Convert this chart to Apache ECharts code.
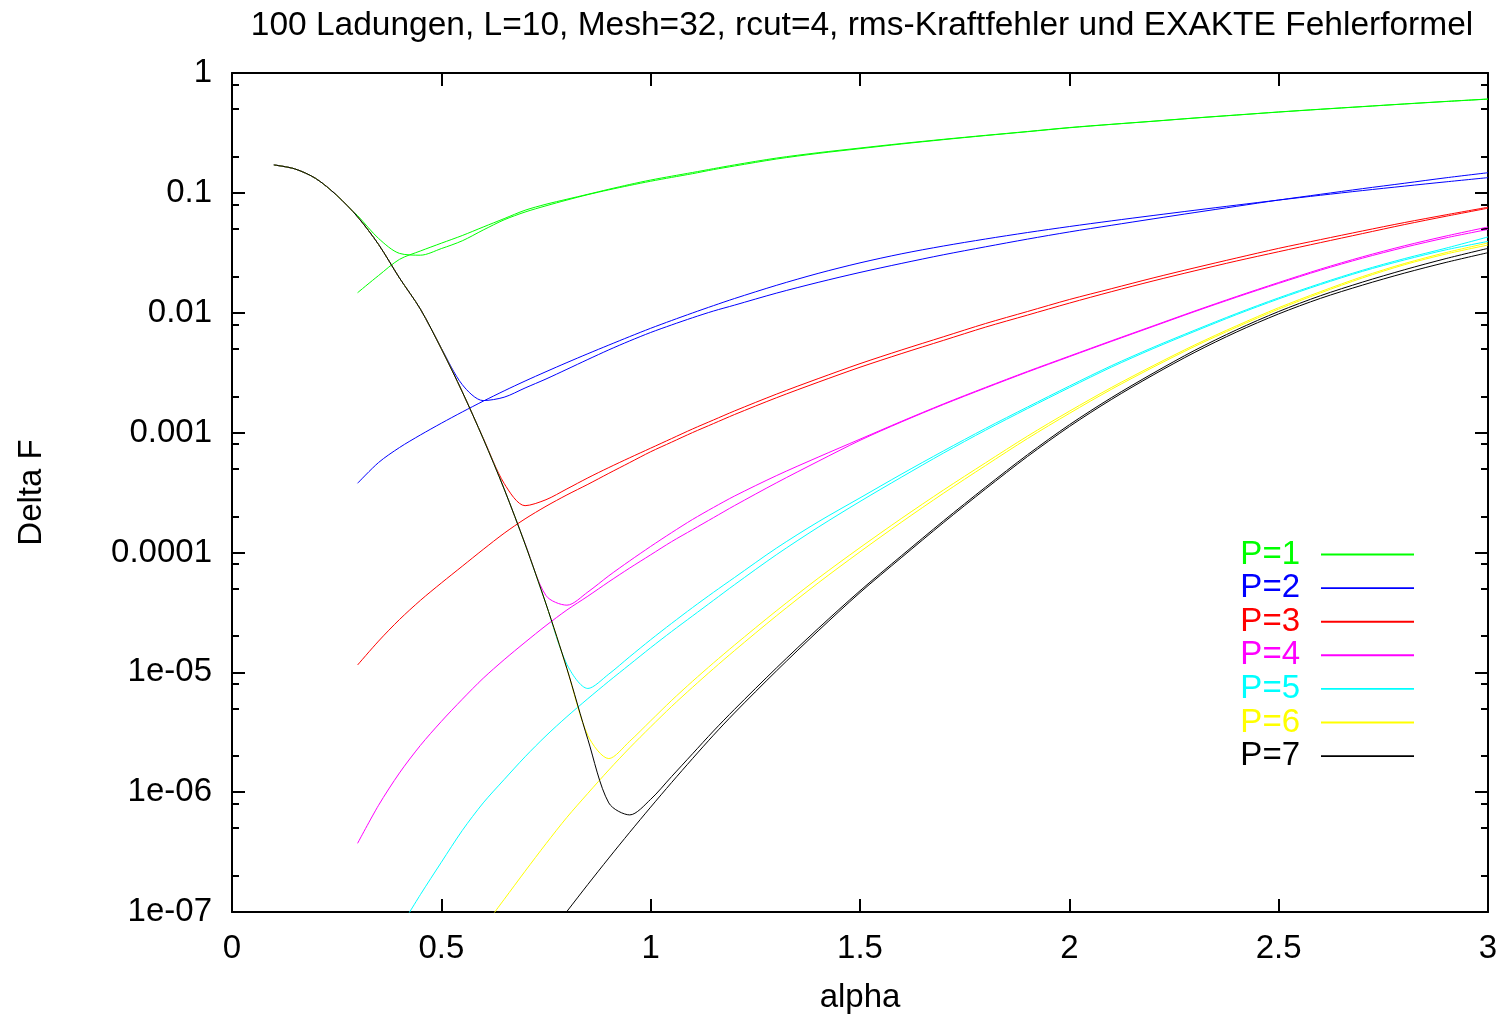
<!DOCTYPE html>
<html>
<head>
<meta charset="utf-8">
<script src="https://cdn.jsdelivr.net/npm/echarts@6/dist/echarts.min.js"></script>
<style>
  html, body { margin: 0; padding: 0; background: #fff; }
  #chart { width: 1503px; height: 1018px; }
</style>
</head>
<body>
<div id="chart"></div>
<script>
// alpha grid of the curves that start at 0.1 (measured rms error)
var alphaA = [0.1, 0.15, 0.2, 0.25, 0.3, 0.35, 0.4, 0.45, 0.5, 0.55, 0.6, 0.65, 0.7, 0.75, 0.8, 0.85, 0.9, 0.95,
  1.0, 1.05, 1.1, 1.15, 1.2, 1.3, 1.4, 1.5, 1.6, 1.7, 1.8, 1.9, 2.0, 2.1, 2.2, 2.3, 2.4, 2.5, 2.6, 2.7, 2.8, 2.9, 3.0];
// alpha grid of the curves that start at 0.3 (exact error formula)
var alphaB = [0.3, 0.35, 0.4, 0.45, 0.5, 0.55, 0.6, 0.65, 0.7, 0.75, 0.8, 0.85, 0.9, 0.95,
  1.0, 1.05, 1.1, 1.15, 1.2, 1.3, 1.4, 1.5, 1.6, 1.7, 1.8, 1.9, 2.0, 2.1, 2.2, 2.3, 2.4, 2.5, 2.6, 2.7, 2.8, 2.9, 3.0];

// log10(Delta F)
var p1A = [-0.767, -0.80, -0.88, -1.02, -1.19, -1.38, -1.505, -1.52, -1.465, -1.40, -1.31, -1.225, -1.16, -1.108, -1.06, -1.015, -0.975, -0.938,
  -0.903, -0.871, -0.84, -0.806, -0.776, -0.718, -0.671, -0.631, -0.592, -0.556, -0.522, -0.49, -0.457, -0.429, -0.403, -0.376, -0.351, -0.326, -0.303, -0.281, -0.259, -0.238, -0.218];
var p1B = [-1.833, -1.69, -1.555, -1.485, -1.42, -1.356, -1.285, -1.215, -1.145, -1.095, -1.053, -1.012, -0.97, -0.93,
  -0.893, -0.861, -0.83, -0.798, -0.767, -0.71, -0.665, -0.626, -0.588, -0.553, -0.52, -0.488, -0.455, -0.428, -0.402, -0.375, -0.35, -0.325, -0.302, -0.28, -0.258, -0.237, -0.217];

var p2A = [-0.767, -0.80, -0.88, -1.02, -1.20, -1.43, -1.71, -1.97, -2.296, -2.60, -2.733, -2.705, -2.628, -2.553, -2.472, -2.39, -2.31, -2.235,
  -2.165, -2.102, -2.042, -1.986, -1.937, -1.837, -1.747, -1.664, -1.588, -1.516, -1.45, -1.386, -1.326, -1.271, -1.217, -1.164, -1.112, -1.06, -1.012, -0.965, -0.92, -0.874, -0.832];
var p2B = [-3.423, -3.25, -3.125, -3.02, -2.922, -2.828, -2.738, -2.652, -2.57, -2.492, -2.416, -2.342, -2.27, -2.199,
  -2.13, -2.065, -2.002, -1.941, -1.882, -1.772, -1.672, -1.584, -1.508, -1.443, -1.385, -1.331, -1.281, -1.234, -1.189, -1.145, -1.102, -1.06, -1.02, -0.981, -0.944, -0.908, -0.873];

var p3A = [-0.767, -0.80, -0.88, -1.02, -1.20, -1.43, -1.71, -1.97, -2.30, -2.66, -3.046, -3.424, -3.61, -3.56, -3.47, -3.378, -3.292, -3.21,
  -3.13, -3.05, -2.97, -2.895, -2.82, -2.68, -2.55, -2.425, -2.31, -2.2, -2.09, -1.99, -1.89, -1.8, -1.71, -1.625, -1.543, -1.463, -1.39, -1.318, -1.248, -1.183, -1.12];
var p3B = [-4.939, -4.74, -4.56, -4.40, -4.255, -4.115, -3.975, -3.84, -3.72, -3.615, -3.52, -3.432, -3.34, -3.25,
  -3.16, -3.08, -3.0, -2.925, -2.85, -2.71, -2.58, -2.455, -2.34, -2.23, -2.12, -2.02, -1.92, -1.825, -1.735, -1.65, -1.568, -1.491, -1.415, -1.34, -1.265, -1.195, -1.128];

var p4A = [-0.767, -0.80, -0.88, -1.02, -1.20, -1.43, -1.71, -1.97, -2.30, -2.66, -3.05, -3.47, -3.925, -4.36, -4.44, -4.33, -4.195, -4.07,
  -3.95, -3.835, -3.725, -3.625, -3.53, -3.36, -3.205, -3.055, -2.905, -2.76, -2.623, -2.49, -2.362, -2.235, -2.11, -1.985, -1.864, -1.748, -1.636, -1.534, -1.442, -1.36, -1.285];
var p4B = [-6.427, -6.11, -5.84, -5.61, -5.41, -5.225, -5.05, -4.895, -4.75, -4.61, -4.48, -4.365, -4.245, -4.13,
  -4.02, -3.91, -3.81, -3.71, -3.61, -3.42, -3.24, -3.065, -2.91, -2.765, -2.628, -2.495, -2.367, -2.24, -2.115, -1.99, -1.87, -1.755, -1.645, -1.545, -1.455, -1.375, -1.305];

var p5A = [-0.767, -0.80, -0.88, -1.02, -1.20, -1.43, -1.71, -1.97, -2.30, -2.66, -3.05, -3.47, -3.93, -4.43, -4.934, -5.135, -5.015, -4.87,
  -4.728, -4.592, -4.46, -4.333, -4.21, -3.965, -3.745, -3.545, -3.345, -3.152, -2.965, -2.787, -2.612, -2.443, -2.289, -2.145, -2.006, -1.876, -1.756, -1.646, -1.549, -1.461, -1.368];
var p5B = [null, null, -7.14, -6.855, -6.585, -6.32, -6.09, -5.895, -5.705, -5.53, -5.37, -5.22, -5.075, -4.935,
  -4.795, -4.66, -4.53, -4.4, -4.27, -4.02, -3.79, -3.575, -3.37, -3.17, -2.98, -2.8, -2.625, -2.455, -2.3, -2.155, -2.015, -1.885, -1.765, -1.655, -1.56, -1.475, -1.405];

var p6A = [-0.767, -0.80, -0.88, -1.02, -1.20, -1.43, -1.71, -1.97, -2.30, -2.66, -3.05, -3.47, -3.93, -4.43, -4.97, -5.527, -5.72, -5.575,
  -5.405, -5.235, -5.075, -4.922, -4.774, -4.488, -4.216, -3.96, -3.714, -3.478, -3.252, -3.03, -2.822, -2.625, -2.442, -2.268, -2.108, -1.958, -1.824, -1.699, -1.59, -1.498, -1.418];
var p6B = [null, null, null, null, null, null, -7.13, -6.895, -6.66, -6.43, -6.21, -6.01, -5.815, -5.63,
  -5.455, -5.285, -5.125, -4.97, -4.82, -4.53, -4.255, -3.995, -3.745, -3.505, -3.275, -3.05, -2.84, -2.64, -2.455, -2.28, -2.12, -1.97, -1.835, -1.71, -1.6, -1.51, -1.435];

var p7A = [-0.767, -0.80, -0.88, -1.02, -1.20, -1.43, -1.71, -1.97, -2.30, -2.66, -3.05, -3.47, -3.93, -4.43, -4.97, -5.56, -6.09, -6.19,
  -6.06, -5.87, -5.68, -5.49, -5.31, -4.965, -4.635, -4.32, -4.025, -3.735, -3.455, -3.185, -2.935, -2.71, -2.505, -2.313, -2.142, -1.99, -1.858, -1.745, -1.642, -1.548, -1.463];
var p7B = [null, null, null, null, null, null, null, null, null, -7.22, -6.995, -6.77, -6.55, -6.335,
  -6.125, -5.92, -5.72, -5.525, -5.34, -4.99, -4.655, -4.335, -4.04, -3.75, -3.47, -3.2, -2.95, -2.725, -2.52, -2.33, -2.16, -2.01, -1.88, -1.77, -1.67, -1.58, -1.499];

var names = ['P=1', 'P=2', 'P=3', 'P=4', 'P=5', 'P=6', 'P=7'];
var colors = ['#00ff00', '#0000ff', '#ff0000', '#ff00ff', '#00ffff', '#ffff00', '#000000'];
var curvesA = [p1A, p2A, p3A, p4A, p5A, p6A, p7A];
var curvesB = [p1B, p2B, p3B, p4B, p5B, p6B, p7B];

var yTickLabels = ['1e-07', '1e-06', '1e-05', '0.0001', '0.001', '0.01', '0.1', '1'];
var yMinorTicks = [2e-7, 5e-7, 8e-7, 2e-6, 5e-6, 8e-6, 2e-5, 5e-5, 8e-5, 2e-4, 5e-4, 8e-4,
  2e-3, 5e-3, 8e-3, 0.02, 0.05, 0.08, 0.2, 0.5, 0.8];

var FONT = 'Liberation Sans, Arial, sans-serif';

function toPoints(xs, logs) {
  var pts = [];
  for (var i = 0; i < xs.length; i++) {
    if (logs[i] === null) continue;
    pts.push([xs[i], Math.pow(10, logs[i])]);
  }
  return pts;
}

var series = [];
names.forEach(function (n, k) {
  [toPoints(alphaA, curvesA[k]), toPoints(alphaB, curvesB[k])].forEach(function (pts) {
    series.push({
      name: n,
      type: 'line',
      data: pts,
      showSymbol: false,
      smooth: 0.3,
      color: colors[k],
      lineStyle: { width: 1, color: colors[k] }
    });
  });
});

function xAx(pos, showLabel) {
  return {
    type: 'value', min: 0, max: 3, interval: 0.5, position: pos,
    axisLine: { show: true, onZero: false, lineStyle: { color: '#000', width: 2 } },
    axisTick: { show: true, inside: true, length: 13, lineStyle: { color: '#000', width: 2 } },
    axisLabel: { show: showLabel, color: '#000', fontSize: 33, fontFamily: FONT, margin: 20 },
    splitLine: { show: false }
  };
}
function yAx(pos, opts) {
  var a = {
    type: 'log', logBase: 10, min: 1e-7, max: 1, interval: 1, position: pos,
    axisLine: { show: true, onZero: false, lineStyle: { color: '#000', width: 2 } },
    axisTick: { show: true, inside: true, length: 13, lineStyle: { color: '#000', width: 2 } },
    axisLabel: { show: false },
    splitLine: { show: false }
  };
  return Object.assign(a, opts || {});
}

var xa0 = xAx('bottom', true);
xa0.name = 'alpha';
xa0.nameLocation = 'middle';
xa0.nameGap = 69;
xa0.nameTextStyle = { fontSize: 33, color: '#000', fontFamily: FONT };

var ya0 = yAx('left', {
  name: 'Delta F',
  nameLocation: 'middle',
  nameRotate: 90,
  nameGap: 184,
  nameTextStyle: { fontSize: 33, color: '#000', fontFamily: FONT },
  axisLabel: {
    show: true, color: '#000', fontSize: 33, fontFamily: FONT, margin: 20,
    formatter: function (v) { return yTickLabels[Math.round(Math.log10(v)) + 7]; }
  }
});
var minorTick = { show: true, inside: true, length: 7, customValues: yMinorTicks, lineStyle: { color: '#000', width: 2 } };

// hidden x axis of the overlay grid that carries the minor y ticks
var xHidden = xAx('bottom', false);
xHidden.gridIndex = 1;
xHidden.show = false;

var option = {
  animation: false,
  backgroundColor: '#fff',
  title: {
    text: '100 Ladungen, L=10, Mesh=32, rcut=4, rms-Kraftfehler und EXAKTE Fehlerformel',
    left: 857, top: 4, textAlign: 'center',
    textStyle: { fontSize: 33.5, fontWeight: 'normal', color: '#000', fontFamily: FONT }
  },
  grid: [
    { left: 232, right: 15, top: 73, bottom: 106, containLabel: false, outerBoundsMode: 'none' },
    { left: 232, right: 15, top: 73, bottom: 106, containLabel: false, outerBoundsMode: 'none' }
  ],
  legend: {
    orient: 'vertical', right: 89, top: 538, align: 'right', padding: 0,
    itemWidth: 93, itemHeight: 2, itemGap: 0.6,
    icon: 'path://M0,0H100V2H0Z',
    textStyle: { fontSize: 33, fontFamily: FONT, padding: [0, 16, 0, 0] },
    data: names.map(function (n, k) { return { name: n, textStyle: { color: colors[k] } }; })
  },
  xAxis: [xa0, xAx('top', false), xHidden],
  yAxis: [
    ya0,
    yAx('right'),
    yAx('left', { gridIndex: 1, axisLine: { show: false }, axisTick: minorTick }),
    yAx('right', { gridIndex: 1, axisLine: { show: false }, axisTick: minorTick })
  ],
  series: series
};

var chart = echarts.init(document.getElementById('chart'));
chart.setOption(option);
</script>
</body>
</html>
